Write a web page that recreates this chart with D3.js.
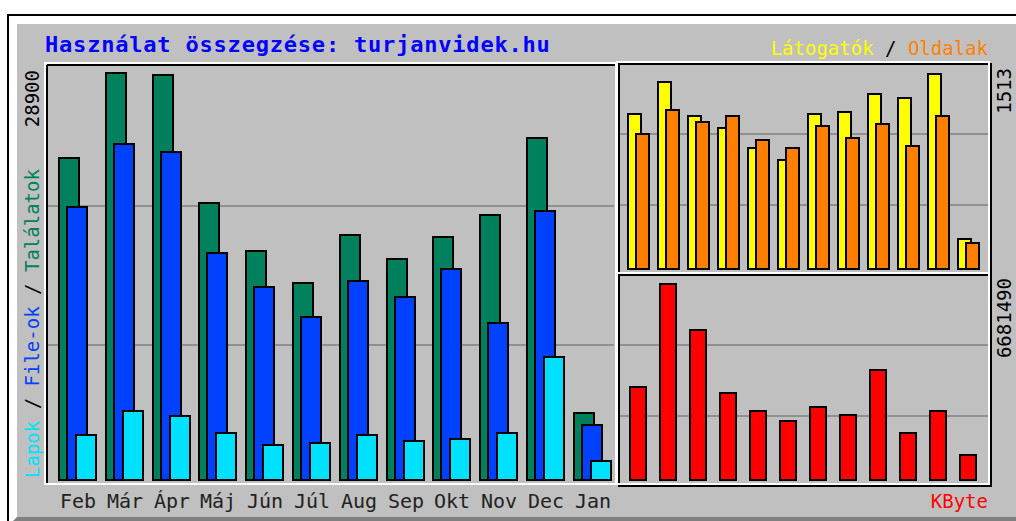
<!DOCTYPE html>
<html lang="hu">
<head>
    <meta charset="UTF-8">
    <script src="https://d3js.org/d3.v7.min.js"></script>
    <title>Használat összegzése: turjanvidek.hu</title>
    <style>
        body { margin: 0; background: #fff; }
        text { font-family: "DejaVu Sans Mono", monospace; }
    </style>
</head>
<body>
    <div id="my_dataviz"></div>
<script>
    // data
    const months = ["Feb", "Már", "Ápr", "Máj", "Jún", "Júl", "Aug", "Sep", "Okt", "Nov", "Dec", "Jan"];
    const hits   = [22860, 28900, 28760, 19740, 16330, 14060, 17470, 15760, 17320, 18890, 24280, 4900];
    const files  = [19450, 23860, 23290, 16190, 13770, 11640, 14200, 13060, 15050, 11220, 19170, 4050];
    const pages  = [3340, 5040, 4690, 3480, 2630, 2770, 3340, 2910, 3050, 3480, 8800, 1490];
    const visits = [1204, 1451, 1189, 1096, 942, 849, 1204, 1220, 1359, 1328, 1513, 247];
    const sites  = [1050, 1235, 1142, 1189, 1003, 942, 1112, 1019, 1127, 957, 1189, 216];
    const kbytes = [3222000, 6681490, 5121000, 3019000, 2408000, 2069000, 2544000, 2272000, 3765000, 1662000, 2408000, 916000];

    const width = 1016, height = 521;

    let svg = d3.select("#my_dataviz").append("svg")
                .attr("width", width)
                .attr("height", height);

    //page + outer frame
    svg.append("rect").attr("width", width).attr("height", height).style("fill", "#fff");
    svg.append("rect").attr("x", 7).attr("y", 14).attr("width", width - 7).attr("height", 2).style("fill", "#000");
    svg.append("rect").attr("x", 7).attr("y", 14).attr("width", 2).attr("height", height - 14).style("fill", "#000");
    svg.append("rect").attr("x", 17).attr("y", 24).attr("width", width - 17).attr("height", height - 24).style("fill", "#C0C0C0");
    svg.append("polygon").attr("points", "17,517 1016,517 1016,521 13,521").style("fill", "#808080");

    //boxes
    const boxL = {x0: 47, y0: 65, x1: 616, y1: 484},
          boxT = {x0: 619, y0: 64, x1: 991, y1: 275},
          boxB = {x0: 619, y0: 275, x1: 991, y1: 486};

    //grid lines (thirds of each box)
    const grid = svg.append("g").attr("stroke", "#808080").attr("stroke-width", 1.6);
    [[boxL, 66, 485], [boxT, 64, 275], [boxB, 275, 486]].forEach(function (b) {
        [1, 2].forEach(function (k) {
            let gy = Math.round(b[1] + (b[2] - b[1]) * k / 3);
            grid.append("line").attr("x1", b[0].x0 + 1).attr("x2", b[0].x1 - 2)
                .attr("y1", gy).attr("y2", gy);
        });
    });

    //black lines first, white on top
    svg.append("rect").attr("x", boxT.x0).attr("y", boxT.y0).attr("width", boxT.x1 - boxT.x0).attr("height", boxT.y1 - boxT.y0)
       .style("fill", "none").style("stroke", "#000").style("stroke-width", 2);
    svg.append("rect").attr("x", boxB.x0).attr("y", boxB.y0).attr("width", boxB.x1 - boxB.x0).attr("height", boxB.y1 - boxB.y0)
       .style("fill", "none").style("stroke", "#000").style("stroke-width", 2);
    svg.append("line").attr("x1", boxL.x0).attr("x2", boxL.x1).attr("y1", boxL.y0).attr("y2", boxL.y0)
       .style("stroke", "#000").style("stroke-width", 2);
    svg.append("line").attr("x1", boxL.x0).attr("x2", boxL.x0).attr("y1", boxL.y0).attr("y2", boxL.y1)
       .style("stroke", "#000").style("stroke-width", 2);

    svg.append("rect").attr("x", 45).attr("y", 63).attr("width", 571).attr("height", 421)
       .style("fill", "none").style("stroke", "#fff").style("stroke-width", 2);
    svg.append("rect").attr("x", 617).attr("y", 62).attr("width", 372).attr("height", 211)
       .style("fill", "none").style("stroke", "#fff").style("stroke-width", 2);
    svg.append("rect").attr("x", 617).attr("y", 273).attr("width", 372).attr("height", 211)
       .style("fill", "none").style("stroke", "#fff").style("stroke-width", 2);

    //scales
    let xL = d3.scaleBand().domain(months).range([58, 58 + 12 * 46.8]);
    let xR = d3.scaleBand().domain(months).range([627, 627 + 12 * 30]);
    let yL = d3.scaleLinear().domain([0, d3.max(hits)]).range([481, 72]);
    let yT = d3.scaleLinear().domain([0, d3.max(visits)]).range([270, 73]);
    let yB = d3.scaleLinear().domain([0, d3.max(kbytes)]).range([481, 283]);

    // bar by outer edges (outline is 2px black)
    function bars(vals, xs, off, w, ys, color) {
        svg.append("g").selectAll("rect").data(vals).enter()
           .append("rect")
           .attr("x", function (d, i) { return Math.round(xs(months[i])) + off + 1; })
           .attr("y", function (d) { return Math.round(ys(d)) + 1; })
           .attr("width", w - 2)
           .attr("height", function (d) { return ys(0) - Math.round(ys(d)) - 2; })
           .style("fill", color)
           .style("stroke", "#000")
           .style("stroke-width", 2);
    }

    bars(hits, xL, 0, 22, yL, "#00805C");
    bars(files, xL, 8, 22, yL, "#0040FF");
    bars(pages, xL, 17, 22, yL, "#00E0FF");
    bars(visits, xR, 0, 15, yT, "#FFFF00");
    bars(sites, xR, 8, 15, yT, "#FF8000");
    bars(kbytes, xR, 2, 18, yB, "#FF0000");

    //month labels
    svg.append("g").selectAll("text").data(months).enter()
       .append("text")
       .attr("x", function (d) { return Math.round(xL(d)) + 20; })
       .attr("y", 508)
       .attr("text-anchor", "middle")
       .style("font-size", "20px")
       .style("fill", "#222")
       .text(function (d) { return d; });

    //title
    svg.append("text").attr("x", 45).attr("y", 52)
       .style("font-size", "22px").style("font-weight", "bold").style("letter-spacing", "0.8px")
       .style("fill", "#0000FF")
       .text("Használat összegzése: turjanvidek.hu");

    //legend texts
    let lt = svg.append("text").attr("x", 988).attr("y", 55).attr("text-anchor", "end").style("font-size", "19px");
    lt.append("tspan").style("fill", "#FFFF00").text("Látogatók");
    lt.append("tspan").style("fill", "#000").text(" / ");
    lt.append("tspan").style("fill", "#FF8000").text("Oldalak");

    svg.append("text").attr("x", 988).attr("y", 508).attr("text-anchor", "end")
       .style("font-size", "19px").style("fill", "#FF0000").text("KByte");

    let ll = svg.append("text").attr("transform", "translate(39,478) rotate(-90)").style("font-size", "19px");
    ll.append("tspan").style("fill", "#00E0FF").text("Lapok");
    ll.append("tspan").style("fill", "#000").text(" / ");
    ll.append("tspan").style("fill", "#0040FF").text("File-ok");
    ll.append("tspan").style("fill", "#000").text(" / ");
    ll.append("tspan").style("fill", "#00805C").text("Találatok");

    //max value labels
    [[39, 70, d3.max(hits)], [1011, 68, d3.max(visits)], [1011, 278, d3.max(kbytes)]].forEach(function (m) {
        svg.append("text").attr("transform", "translate(" + m[0] + "," + m[1] + ") rotate(-90)")
           .attr("text-anchor", "end").style("font-size", "19px").style("fill", "#000")
           .text(m[2]);
    });
</script>
</body>
</html>
